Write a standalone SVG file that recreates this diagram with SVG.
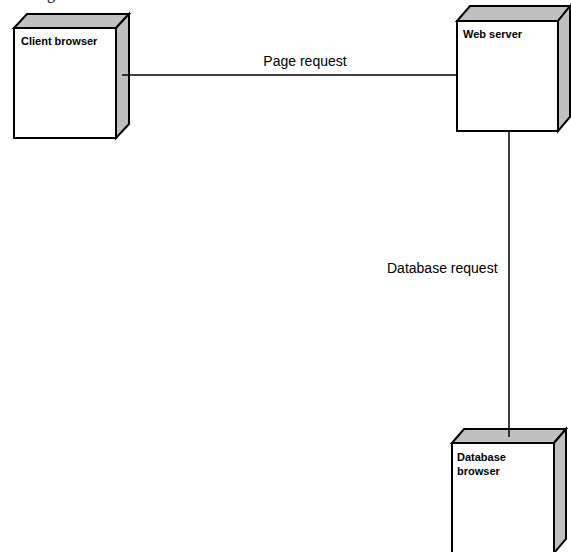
<svg xmlns="http://www.w3.org/2000/svg" width="571" height="552" viewBox="0 0 571 552">
<style>
.front{fill:#ffffff;stroke:#000;stroke-width:2}
.side{fill:#c0c0c0;stroke:#000;stroke-width:2;stroke-linejoin:miter}
.name{font-family:"Liberation Sans",Arial,sans-serif;font-size:11px;font-weight:bold;fill:#000}
.lbl{font-family:"Liberation Sans",Arial,sans-serif;font-size:14px;fill:#000}
.conn{stroke:#000;stroke-width:1.5;fill:none}
</style>
<rect width="571" height="552" fill="#fff"/>
<text x="47" y="-1" style="font-family:'Liberation Serif',serif;font-size:16px">g</text>
<g id="client-browser">
<polygon class="side" points="14,28 27,14 129,14 116,28"/>
<polygon class="side" points="116,28 129,14 129,124 116,138"/>
<rect class="front" x="14" y="28" width="102" height="110"/>
<text class="name" x="21" y="45">Client browser</text>
</g>
<g id="web-server">
<polygon class="side" points="457,21 470,6 570,6 558,21"/>
<polygon class="side" points="558,21 570,6 570,117 558,131"/>
<rect class="front" x="457" y="21" width="101" height="110"/>
<text class="name" x="463" y="38">Web server</text>
</g>
<g id="database-browser">
<polygon class="side" points="452,443 464,429 566,429 554,443"/>
<polygon class="side" points="554,443 566,429 566,539 554,553"/>
<rect class="front" x="452" y="443" width="102" height="110"/>
<text class="name" x="457" y="461">Database</text>
<text class="name" x="457" y="475">browser</text>
</g>
<g id="connectors">
<line class="conn" x1="122" y1="75" x2="457" y2="75"/>
<line class="conn" x1="509" y1="131" x2="509" y2="437"/>
<text class="lbl" x="305" y="66" text-anchor="middle">Page request</text>
<text class="lbl" x="387" y="273">Database request</text>
</g>
</svg>
